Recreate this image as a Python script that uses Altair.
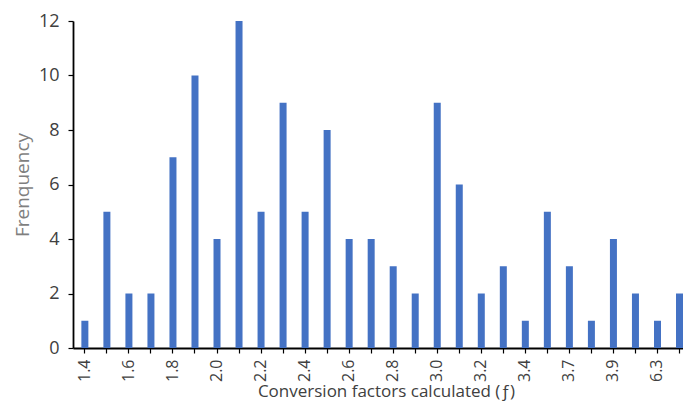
import altair as alt
import pandas as pd

categories = ["1.4", "1.5", "1.6", "1.7", "1.8", "1.9", "2.0", "2.1", "2.2", "2.3",
              "2.4", "2.5", "2.6", "2.7", "2.8", "2.9", "3.0", "3.1", "3.2", "3.3",
              "3.4", "3.5", "3.7", "3.8", "3.9", "4.4", "6.3", "6.9"]
frequency = [1, 5, 2, 2, 7, 10, 4, 12, 5, 9,
             5, 8, 4, 4, 3, 2, 9, 6, 2, 3,
             1, 5, 3, 1, 4, 2, 1, 2]
shown_labels = ["1.4", "1.6", "1.8", "2.0", "2.2", "2.4", "2.6", "2.8", "3.0",
                "3.2", "3.4", "3.7", "3.9", "6.3"]

df = pd.DataFrame({"f": categories, "n": frequency})

label_list = "[" + ",".join("'" + s + "'" for s in shown_labels) + "]"
FONT = "Open Sans"

chart = alt.Chart(df).mark_bar(color="#4472C4").encode(
    x=alt.X("f:N", sort=categories,
            scale=alt.Scale(paddingInner=0.682, paddingOuter=0.19, align=1),
            axis=alt.Axis(title="Conversion factors calculated (ƒ)",
                          labelAngle=-90, labelFontSize=16, labelColor="#404040",
                          labelExpr="indexof(" + label_list + ", datum.label) >= 0 ? datum.label : ''",
                          labelPadding=6, labelBaseline="middle",
                          tickColor="#000000", tickSize=5, tickWidth=1.2,
                          domainColor="#000000", domainWidth=1.8,
                          titleFontSize=17, titleFontWeight="normal",
                          titleColor="#404040", titlePadding=2, titleFont=FONT,
                          titleX=313, labelFont=FONT)),
    y=alt.Y("n:Q", scale=alt.Scale(domain=[0, 12]),
            axis=alt.Axis(title="Frenquency", values=[0, 2, 4, 6, 8, 10, 12],
                          grid=False, labelFontSize=18, labelColor="#404040",
                          labelPadding=9, tickColor="#000000", tickSize=5,
                          tickWidth=1.2,
                          domainColor="#000000", domainWidth=1.8,
                          titleFontSize=19, titleFontWeight="normal",
                          titleColor="#7f7f7f", titlePadding=6,
                          titleFont=FONT, labelFont=FONT)),
).properties(
    width=610, height=327,
    autosize=alt.AutoSizeParams(type="none"),
    padding={"left": 65, "top": 13, "right": 0, "bottom": 56},
).configure_view(stroke=None)

chart.save("out.html", embed_options={"renderer": "svg", "actions": False})
